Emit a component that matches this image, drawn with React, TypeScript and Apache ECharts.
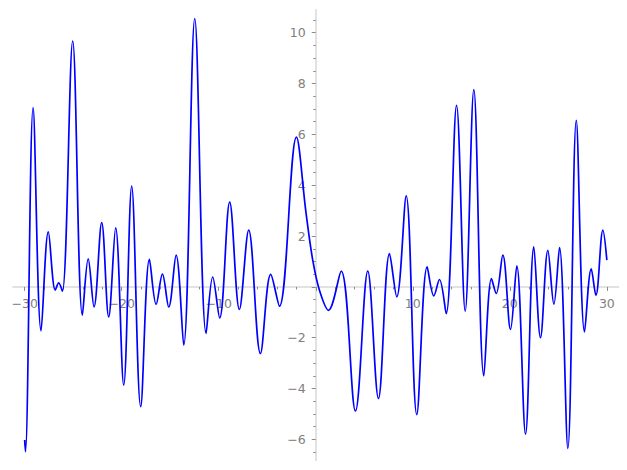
import React, { useEffect, useRef } from "react";
import * as echarts from "echarts";

// Curve samples (extrema and a few slope points)
const CURVE_X = [
  -30.0, -29.92, -29.13, -28.31, -27.56, -26.84, -26.49, -26.11, -25.05, -24.05,
  -23.45, -22.85, -22.06, -21.34, -20.62, -19.79, -18.97, -18.04, -17.14, -16.45,
  -15.8, -15.15, -14.39, -13.61, -12.47, -11.3, -10.62, -9.9, -8.87, -7.87,
  -6.91, -5.7, -4.64, -3.74, -1.99, -1.0, -0.31, 0.38, 1.31, 2.62,
  4.09, 5.36, 6.46, 7.6, 8.35, 9.32, 10.41, 11.48, 12.17, 12.75,
  13.44, 14.51, 15.4, 16.29, 17.32, 18.11, 18.6, 19.28, 20.07, 20.72,
  21.62, 22.47, 23.16, 23.92, 24.54, 25.12, 25.98, 26.85, 27.7, 28.39,
  28.87, 29.59, 30.0,
];
const CURVE_Y = [
  -6.02, -6.48, 7.05, -1.73, 2.16, -0.13, 0.16, -0.17, 9.67, -1.11,
  1.1, -0.79, 2.53, -1.18, 2.32, -3.86, 3.96, -4.71, 1.08, -0.69,
  0.5, -0.79, 1.25, -2.29, 10.55, -1.83, 0.39, -1.22, 3.33, -0.89,
  2.23, -2.62, 0.49, -0.76, 5.89, 2.9, 1.05, -0.13, -0.92, 0.62,
  -4.88, 0.62, -4.39, 1.31, -0.39, 3.58, -5.02, 0.79, -0.35, 0.29,
  -1.05, 7.14, -0.95, 7.76, -3.5, 0.33, -0.26, 1.25, -1.67, 0.83,
  -5.79, 1.57, -2.0, 1.44, -0.68, 1.55, -6.35, 6.55, -1.77, 0.71,
  -0.33, 2.23, 1.05,
];

const X_MAJOR_TICKS = [-30, -20, -10, 0, 10, 20, 30];
const X_LABELS = [-30, -20, -10, 10, 20, 30];
const X_MINOR_TICKS = [
  -28, -26, -24, -22, -18, -16, -14, -12, -8, -6, -4, -2,
  2, 4, 6, 8, 12, 14, 16, 18, 22, 24, 26, 28,
];
const Y_MAJOR_TICKS = [-6, -4, -2, 0, 2, 4, 6, 8, 10];
const Y_LABELS = [-6, -4, -2, 2, 4, 6, 8, 10];
const Y_MINOR_TICKS = [
  -6.5, -5.5, -5, -4.5, -3.5, -3, -2.5, -1.5, -1, -0.5,
  0.5, 1, 1.5, 2.5, 3, 3.5, 4.5, 5, 5.5, 6.5, 7, 7.5, 8.5, 9, 9.5, 10.5,
];

const X_MIN = -31.2;
const X_MAX = 31.2;
const Y_MIN = -6.82;
const Y_MAX = 10.89;

const fmt = (v: number) => (v === 0 ? "" : String(v).replace("-", "\u2212"));

const W = 627;
const H = 470;
const G_LEFT = 13;
const G_RIGHT = 8.5;
const G_TOP = 10;
const G_BOTTOM = 9.7;

export default function App() {
  const ref = useRef<HTMLDivElement>(null);
  useEffect(() => {
    if (!ref.current) return;
    const chart = echarts.init(ref.current, null, { renderer: "svg" });
    // place the axes where the other axis is zero (via offset)
    const gw = W - G_LEFT - G_RIGHT;
    const gh = H - G_TOP - G_BOTTOM;
    const zeroPx = G_LEFT + (gw * (0 - X_MIN)) / (X_MAX - X_MIN);
    const zeroPy = G_TOP + (gh * (Y_MAX - 0)) / (Y_MAX - Y_MIN);
    const yOffset = -(zeroPx - G_LEFT);
    const xOffset = -(H - G_BOTTOM - zeroPy);

    const axisLineStyle = { color: "#e2e2e2", width: 2 };
    const tickStyle = { color: "#8a8a8a", width: 1 };
    const labelStyle = {
      color: "#808080",
      fontSize: 12.5,
      fontFamily: "DejaVu Sans",
      margin: 10,
      formatter: fmt,
    };
    chart.setOption({
      animation: false,
      backgroundColor: "#ffffff",
      grid: {
        left: G_LEFT,
        right: G_RIGHT,
        top: G_TOP,
        bottom: G_BOTTOM,
        containLabel: false,
        outerBoundsMode: "none",
      },
      xAxis: [
        {
          type: "value",
          min: X_MIN,
          max: X_MAX,
          position: "bottom",
          offset: xOffset,
          axisLine: { show: true, onZero: false, lineStyle: axisLineStyle },
          axisTick: { show: true, length: 4, lineStyle: tickStyle, customValues: X_MAJOR_TICKS },
          axisLabel: { ...labelStyle, customValues: X_LABELS },
          splitLine: { show: false },
        },
        {
          type: "value",
          min: X_MIN,
          max: X_MAX,
          position: "bottom",
          offset: xOffset,
          axisLine: { show: false, onZero: false },
          axisTick: { show: true, length: 2.5, lineStyle: tickStyle, customValues: X_MINOR_TICKS },
          axisLabel: { show: false },
          splitLine: { show: false },
        },
      ],
      yAxis: [
        {
          type: "value",
          min: Y_MIN,
          max: Y_MAX,
          position: "left",
          offset: yOffset,
          axisLine: { show: true, onZero: false, lineStyle: axisLineStyle },
          axisTick: { show: true, length: 4, lineStyle: tickStyle, customValues: Y_MAJOR_TICKS },
          axisLabel: { ...labelStyle, customValues: Y_LABELS },
          splitLine: { show: false },
        },
        {
          type: "value",
          min: Y_MIN,
          max: Y_MAX,
          position: "left",
          offset: yOffset,
          axisLine: { show: false, onZero: false },
          axisTick: { show: true, length: 2.5, lineStyle: tickStyle, customValues: Y_MINOR_TICKS },
          axisLabel: { show: false },
          splitLine: { show: false },
        },
      ],
      series: [
        {
          type: "line",
          xAxisIndex: 0,
          yAxisIndex: 0,
          data: CURVE_X.map((x, i) => [x, CURVE_Y[i]]),
          smooth: 0.36,
          showSymbol: false,
          symbol: "none",
          silent: true,
          lineStyle: { color: "#0000ff", width: 1.7 },
          z: 5,
        },
      ],
    });
    return () => chart.dispose();
  }, []);
  return (
    <div
      ref={ref}
      style={{ position: "absolute", left: 0, top: 0, width: W, height: H, background: "#fff" }}
    />
  );
}
